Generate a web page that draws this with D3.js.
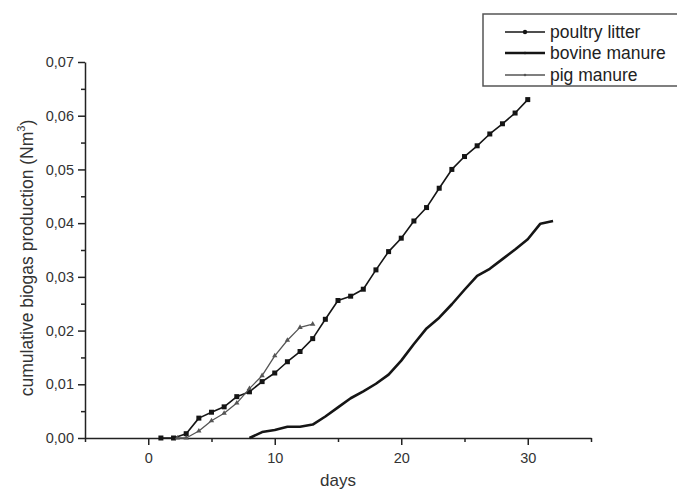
<!DOCTYPE html>
<html>
<head>
<meta charset="utf-8">
<script src="https://cdn.jsdelivr.net/npm/d3@7"></script>
<style>
  body { margin: 0; background: #fff; }
  svg { font-family: "Liberation Sans", Arial, sans-serif; }
</style>
</head>
<body>
<div id="chart"></div>
<script>
// data
const poultryDays = [1, 2, 3, 4, 5, 6, 7, 8, 9, 10, 11, 12, 13, 14, 15, 16, 17, 18, 19, 20, 21, 22, 23, 24, 25, 26, 27, 28, 29, 30]
const poultryValues = [0, 0, 0.0008, 0.0037, 0.0048, 0.0058, 0.0077, 0.0086, 0.0105, 0.0121, 0.0142, 0.0161, 0.0185, 0.0221,
  0.0256, 0.0264, 0.0277, 0.0313, 0.0347, 0.0372, 0.0404, 0.0429, 0.0465, 0.0500, 0.0524, 0.0544, 0.0566, 0.0585, 0.0605, 0.0630]

const bovineDays = [8, 9, 10, 11, 12, 13, 14, 15, 16, 17, 18, 19, 20, 21, 22, 23, 24, 25, 26, 27, 28, 29, 30, 31, 32]
const bovineValues = [0, 0.0011, 0.0015, 0.0021, 0.0021, 0.0025, 0.0040, 0.0057, 0.0074, 0.0087, 0.0101, 0.0118, 0.0144,
  0.0175, 0.0204, 0.0224, 0.0249, 0.0276, 0.0302, 0.0315, 0.0333, 0.0351, 0.0370, 0.0399, 0.0404]

const pigDays = [2.3, 3, 4, 5, 6, 7, 8, 9, 10, 11, 12, 13]
const pigValues = [0, 0, 0.0013, 0.0032, 0.0046, 0.0065, 0.0092, 0.0116, 0.0153, 0.0182, 0.0206, 0.0212]

const xMajorTicks = [0, 10, 20, 30]
const xMinorTicks = [-5, 5, 15, 25, 35]
const yMajorTicks = [0, 0.01, 0.02, 0.03, 0.04, 0.05, 0.06, 0.07]
const yMinorTicks = [0.005, 0.015, 0.025, 0.035, 0.045, 0.055, 0.065]

const seriesNames = ['poultry litter', 'bovine manure', 'pig manure']

const zip = (xs, ys) => xs.map((x, i) => ({ x: x, y: ys[i] }))
const series = [
  { name: seriesNames[0], data: zip(poultryDays, poultryValues), color: '#151515', width: 1.6, marker: 'square', msize: 5 },
  { name: seriesNames[1], data: zip(bovineDays, bovineValues), color: '#151515', width: 2.6, marker: null, msize: 0 },
  { name: seriesNames[2], data: zip(pigDays, pigValues), color: '#555', width: 1.3, marker: 'tri', msize: 3.5 }
]

const svg_width = 677
const svg_height = 492
const margin = { top: 62, left: 85, right: 86, bottom: 54 }
const chart_width = svg_width - margin.left - margin.right
const chart_height = svg_height - margin.top - margin.bottom

const svg = d3.select('#chart').append('svg')
  .attr('width', svg_width).attr('height', svg_height)

const g = svg.append('g').attr('transform', `translate(${margin.left},${margin.top})`)

const xScale = d3.scaleLinear().domain([-5, 35]).range([0, chart_width])
const yScale = d3.scaleLinear().domain([0, 0.07]).range([chart_height, 0])

const commaFmt = d => d3.format('.2f')(d).replace('.', ',')

// axes
const xAxis = g.append('g').attr('class', 'x axis')
  .attr('transform', `translate(0,${chart_height})`)
  .call(d3.axisBottom(xScale).tickValues(xMajorTicks).tickFormat(d3.format('d')).tickSizeInner(7).tickSizeOuter(0).tickPadding(8))
xAxis.append('g')
  .call(d3.axisBottom(xScale).tickValues(xMinorTicks).tickFormat('').tickSizeInner(4).tickSizeOuter(0))
  .select('.domain').remove()

const yAxis = g.append('g').attr('class', 'y axis')
  .call(d3.axisLeft(yScale).tickValues(yMajorTicks).tickFormat(commaFmt).tickSizeInner(7).tickSizeOuter(0).tickPadding(4))
yAxis.append('g')
  .call(d3.axisLeft(yScale).tickValues(yMinorTicks).tickFormat('').tickSizeInner(4).tickSizeOuter(0))
  .select('.domain').remove()

svg.selectAll('.axis path, .axis line').attr('stroke', '#222').attr('stroke-width', 1.5)
svg.selectAll('.axis text').attr('font-size', 14.5).attr('fill', '#333')
  .attr('font-family', '"Liberation Sans", Arial, sans-serif')

// axis titles
svg.append('text')
  .attr('x', margin.left + xScale(15)).attr('y', 486)
  .attr('text-anchor', 'middle').attr('font-size', 17).attr('fill', '#333')
  .text('days')

const yTitle = svg.append('text')
  .attr('transform', `translate(33,258) rotate(-90)`)
  .attr('text-anchor', 'middle').attr('font-size', 17.5).attr('fill', '#333')
yTitle.append('tspan').text('cumulative biogas production (Nm')
yTitle.append('tspan').attr('font-size', 11).attr('dy', -8).text('3')
yTitle.append('tspan').attr('dy', 8).text(')')

// lines
const line = d3.line().x(d => xScale(d.x)).y(d => yScale(d.y))

series.forEach(s => {
  g.append('path').datum(s.data)
    .attr('fill', 'none').attr('stroke', s.color).attr('stroke-width', s.width)
    .attr('stroke-linejoin', 'round')
    .attr('d', line)
  if (s.marker) {
    const sym = s.marker === 'square' ? d3.symbolSquare : d3.symbolTriangle
    g.selectAll(null).data(s.data).enter()
      .append('path')
      .attr('transform', d => `translate(${xScale(d.x)},${yScale(d.y)})`)
      .attr('d', d3.symbol().type(sym).size(s.msize * s.msize))
      .attr('fill', s.color)
  }
})

// legend
const legend = svg.append('g').attr('class', 'legend')
legend.append('rect')
  .attr('x', 483).attr('y', 14).attr('width', 200).attr('height', 72)
  .attr('fill', '#fff').attr('stroke', '#555').attr('stroke-width', 1.5)

const legendY = [32, 53, 75]
series.forEach((s, i) => {
  const ly = legendY[i]
  legend.append('line')
    .attr('x1', 505).attr('x2', 545).attr('y1', ly).attr('y2', ly)
    .attr('stroke', s.color).attr('stroke-width', s.width)
  legend.append('circle')
    .attr('cx', 525).attr('cy', ly).attr('r', s.marker === 'square' ? 2.2 : 1.3)
    .attr('fill', s.color)
  legend.append('text')
    .attr('x', 550).attr('y', ly).attr('dy', '0.35em')
    .attr('font-size', 17.5).attr('fill', '#222')
    .text(s.name)
})
</script>
</body>
</html>
